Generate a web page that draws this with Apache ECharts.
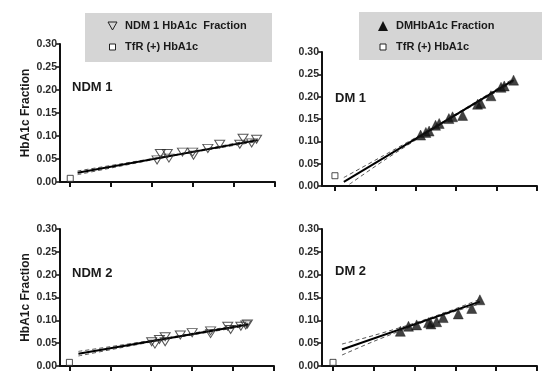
<!DOCTYPE html>
<html>
<head>
<meta charset="utf-8">
<script src="https://cdn.jsdelivr.net/npm/echarts@6/dist/echarts.min.js"></script>
<style>html,body{margin:0;padding:0;background:#fff;}#c{width:560px;height:391px;}</style>
</head>
<body>
<div id="c"></div>
<script>
// ---- data (x in tick units 0..5, y = HbA1c fraction) ----
var yTicks = [0, 0.05, 0.10, 0.15, 0.20, 0.25, 0.30];
var xTicks = [0, 1, 2, 3, 4, 5];
var panelTitles = ['NDM 1', 'DM 1', 'NDM 2', 'DM 2'];
var legendNames = ['NDM 1 HbA1c  Fraction', 'TfR (+) HbA1c', 'DMHbA1c Fraction'];
var yName = 'HbA1c Fraction';

var ndm1X = [2.12, 2.20, 2.37, 2.41, 2.74, 2.99, 3.01, 3.36, 3.65, 4.14, 4.22, 4.43, 4.55];
var ndm1Y = [0.048, 0.062, 0.062, 0.052, 0.065, 0.065, 0.058, 0.073, 0.082, 0.082, 0.095, 0.085, 0.093];
var dm1X = [2.12, 2.25, 2.33, 2.49, 2.58, 2.82, 2.91, 3.16, 3.53, 3.61, 3.86, 4.11, 4.19, 4.42];
var dm1Y = [0.114, 0.120, 0.123, 0.136, 0.140, 0.151, 0.155, 0.158, 0.183, 0.185, 0.202, 0.221, 0.224, 0.237];
var ndm2X = [2.01, 2.09, 2.20, 2.34, 2.34, 2.71, 3.00, 3.45, 3.45, 3.87, 3.94, 4.19, 4.31, 4.35];
var ndm2Y = [0.053, 0.048, 0.058, 0.064, 0.053, 0.068, 0.073, 0.077, 0.071, 0.087, 0.080, 0.087, 0.090, 0.092];
var dm2X = [1.65, 1.85, 2.05, 2.34, 2.40, 2.54, 2.70, 3.07, 3.40, 3.60];
var dm2Y = [0.076, 0.087, 0.090, 0.095, 0.092, 0.097, 0.106, 0.114, 0.126, 0.145];

// TfR (+) HbA1c single points
var tfrX = [0, 0, 0, 0];
var tfrY = [0.008, 0.023, 0.008, 0.008];

// regression lines
var ndm1FitX = [0.18, 4.58], ndm1FitY = [0.020, 0.091];
var dm1FitX = [0.22, 4.42], dm1FitY = [0.009, 0.237];
var ndm2FitX = [0.22, 4.37], ndm2FitY = [0.027, 0.091];
var dm2FitX = [0.22, 3.60], dm2FitY = [0.036, 0.141];

// 95% confidence bands
var ndm1BandX = [0.18, 1.2, 2.4, 3.5, 4.58];
var ndm1Up = [0.024, 0.039, 0.0568, 0.0752, 0.094];
var ndm1Lo = [0.016, 0.034, 0.0550, 0.0720, 0.088];
var dm1BandX = [0.22, 1.2, 2.3, 3.4, 4.42];
var dm1Up = [0.019, 0.068, 0.124, 0.1836, 0.241];
var dm1LoX = [0.36, 1.2, 2.3, 3.4, 4.42];
var dm1Lo = [0.004, 0.0564, 0.120, 0.1796, 0.233];
var ndm2BandX = [0.22, 1.2, 2.3, 3.4, 4.37];
var ndm2Up = [0.032, 0.045, 0.0605, 0.078, 0.094];
var ndm2Lo = [0.022, 0.039, 0.0575, 0.074, 0.088];
var dm2BandX = [0.22, 1.0, 2.0, 2.9, 3.6];
var dm2Up = [0.048, 0.067, 0.094, 0.122, 0.146];
var dm2Lo = [0.024, 0.054, 0.089, 0.117, 0.136];

function zip(a, b) { return a.map(function (v, i) { return [v, b[i]]; }); }

var FONT = '"Liberation Sans", Arial, sans-serif';
var TXT = '#1a1a1a';

var grids = [
  { left: 60, top: 44, width: 215, height: 138 },
  { left: 322, top: 52, width: 215, height: 134 },
  { left: 60, top: 229, width: 214, height: 137 },
  { left: 322, top: 229, width: 215, height: 137 }
];
var xMins = [-0.25, -0.32, -0.23, -0.27];

var xAxes = grids.map(function (g, i) {
  return {
    type: 'value', gridIndex: i, min: xMins[i], max: 5,
    axisLine: { onZero: false, lineStyle: { color: '#111', width: 2 } },
    axisTick: { show: true, customValues: xTicks, length: 5, lineStyle: { color: '#111', width: 2 } },
    axisLabel: { show: false },
    splitLine: { show: false }
  };
});
var yAxes = grids.map(function (g, i) {
  var left = (i % 2 === 0);
  return {
    type: 'value', gridIndex: i, min: yTicks[0], max: yTicks[yTicks.length - 1], interval: 0.05,
    name: left ? yName : '', nameLocation: 'middle', nameGap: 28,
    nameTextStyle: { fontFamily: FONT, fontWeight: 'bold', fontSize: 12, color: TXT },
    axisLine: { show: true, onZero: false, lineStyle: { color: '#111', width: 2 } },
    axisTick: { show: true, length: 4, lineStyle: { color: '#111', width: 1.5 } },
    axisLabel: { margin: 3, fontFamily: FONT, fontSize: 10.5, fontWeight: 'bold', color: '#2a2a2a',
      formatter: function (v) { return v.toFixed(2); } },
    splitLine: { show: false }
  };
});

var triDown = 'path://M0,0L10,0L5,9Z';
var hollow = { color: 'rgba(255,255,255,0)', borderColor: '#2a2a2a', borderWidth: 1 };
var filled = { color: '#111', borderColor: '#111', borderWidth: 0.5 };

function panelSeries(i, px, py, open, fx, fy, bux, bu, blx, bl, name) {
  var dash = { color: '#555', width: 1, type: [4, 3] };
  return [
    { type: 'line', xAxisIndex: i, yAxisIndex: i, data: zip(bux, bu), smooth: 0.3, symbol: 'none', lineStyle: dash, z: 2, silent: true },
    { type: 'line', xAxisIndex: i, yAxisIndex: i, data: zip(blx, bl), smooth: 0.3, symbol: 'none', lineStyle: dash, z: 2, silent: true },
    { type: 'line', xAxisIndex: i, yAxisIndex: i, data: zip(fx, fy), symbol: 'none', lineStyle: { color: '#000', width: 2 }, z: 3, silent: true },
    { type: 'scatter', name: name, xAxisIndex: i, yAxisIndex: i, data: zip(px, py),
      symbol: open ? triDown : 'triangle', symbolSize: open ? [10, 8] : [10, 10],
      itemStyle: open ? hollow : filled, z: 4 },
    { type: 'scatter', name: 'TfR (+) HbA1c', xAxisIndex: i, yAxisIndex: i, data: [[tfrX[i], tfrY[i]]],
      symbol: 'rect', symbolSize: 6, itemStyle: { color: '#fff', borderColor: '#222', borderWidth: 1 }, z: 4 }
  ];
}

var series = [].concat(
  panelSeries(0, ndm1X, ndm1Y, true, ndm1FitX, ndm1FitY, ndm1BandX, ndm1Up, ndm1BandX, ndm1Lo, legendNames[0]),
  panelSeries(1, dm1X, dm1Y, false, dm1FitX, dm1FitY, dm1BandX, dm1Up, dm1LoX, dm1Lo, legendNames[2]),
  panelSeries(2, ndm2X, ndm2Y, true, ndm2FitX, ndm2FitY, ndm2BandX, ndm2Up, ndm2BandX, ndm2Lo, 'NDM 2 HbA1c Fraction'),
  panelSeries(3, dm2X, dm2Y, false, dm2FitX, dm2FitY, dm2BandX, dm2Up, dm2BandX, dm2Lo, 'DM 2 HbA1c Fraction')
);

function txt(x, y, s, size) {
  return { type: 'text', x: x, y: y, z: 10,
    style: { text: s, fontFamily: FONT, fontWeight: 'bold', fontSize: size, fill: TXT, verticalAlign: 'middle' } };
}

var graphic = [
  // legend boxes
  { type: 'rect', shape: { x: 85, y: 13, width: 187, height: 49 }, style: { fill: '#d5d5d5' }, z: 1 },
  { type: 'polygon', shape: { points: [[108, 22], [117, 22], [112.5, 30]] }, style: { fill: 'none', stroke: '#222', lineWidth: 1 }, z: 10 },
  txt(125, 26, legendNames[0], 11),
  { type: 'rect', shape: { x: 109.5, y: 44, width: 6, height: 6 }, style: { fill: '#fff', stroke: '#222', lineWidth: 1 }, z: 10 },
  txt(125, 47, legendNames[1], 11),

  { type: 'rect', shape: { x: 359, y: 12, width: 183, height: 48 }, style: { fill: '#d5d5d5' }, z: 1 },
  { type: 'polygon', shape: { points: [[378, 31], [388, 31], [383, 21]] }, style: { fill: '#111' }, z: 10 },
  txt(396, 26, legendNames[2], 11),
  { type: 'rect', shape: { x: 380, y: 44, width: 6, height: 6 }, style: { fill: '#fff', stroke: '#222', lineWidth: 1 }, z: 10 },
  txt(396, 47, legendNames[1], 11),

  // panel titles
  txt(72, 87, panelTitles[0], 13),
  txt(335, 98, panelTitles[1], 13),
  txt(72, 273, panelTitles[2], 13),
  txt(335, 271, panelTitles[3], 13)
];

var chart = echarts.init(document.getElementById('c'), null, { renderer: 'canvas' });
chart.setOption({
  backgroundColor: '#fff',
  animation: false,
  grid: grids,
  xAxis: xAxes,
  yAxis: yAxes,
  series: series,
  graphic: graphic
});
</script>
</body>
</html>
